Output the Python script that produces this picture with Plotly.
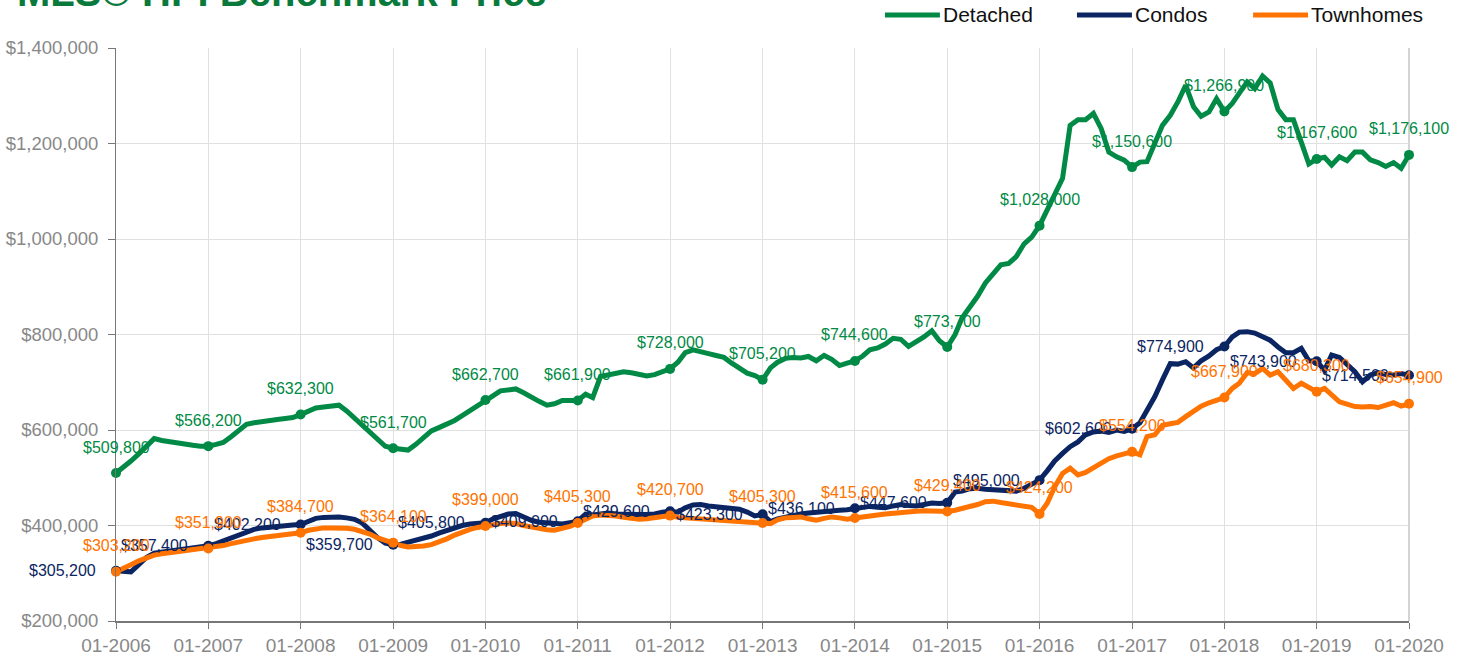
import pandas as pd
import plotly.graph_objects as go

# Monthly MLS HPI benchmark prices (thousands of $), Jan 2006 .. Jan 2020
dates = pd.date_range("2006-01-01", "2020-01-01", freq="MS")

detached = [
    509.8, 522, 535, 550, 565, 582, 578, 575, 572, 570, 568, 566,
    566.2, 570, 574, 586, 600, 612, 615, 618, 620, 622, 624, 626,
    632.3, 640, 646, 648, 651, 652, 640, 625, 610, 593, 578, 566,
    561.7, 560, 558, 570, 585, 598, 605, 612, 620, 630, 640, 651,
    662.7, 672, 682, 685, 686, 678, 668, 660, 652, 655, 662, 662,
    661.9, 675, 668, 712, 716, 719, 722, 720, 717, 713, 716, 722,
    728.0, 742, 762, 768, 765, 760, 756, 752, 740, 730, 719, 714,
    705.2, 730, 742, 750, 752, 751, 754, 745, 756, 748, 735, 740,
    744.6, 755, 768, 772, 780, 792, 790, 775, 784, 795, 808, 787,
    773.7, 800, 835, 858, 880, 908, 925, 946, 949, 963, 990, 1004,
    1028.0, 1060, 1093, 1127, 1238, 1250, 1250, 1263, 1231, 1182, 1172, 1165,
    1150.6, 1161, 1162, 1200, 1238, 1259, 1287, 1322, 1277, 1257, 1266, 1294,
    1266.9, 1284, 1307, 1329, 1315, 1341, 1327, 1271, 1250, 1250, 1203, 1157,
    1167.6, 1171, 1155, 1172, 1164, 1182, 1182, 1166, 1160, 1152, 1160, 1148,
    1176.1,
]

condos = [
    305.2, 303, 303, 318, 333, 342, 345, 347, 349, 351, 353, 355,
    357.4, 362, 368, 374, 381, 388, 392, 395, 397, 399, 400, 401,
    402.2, 410, 415, 417, 418, 418, 416, 413, 405, 390, 374, 363,
    359.7, 361, 365, 368, 373, 378, 384, 390, 396, 400, 403, 405,
    405.8, 414, 418, 424, 425, 418, 411, 407, 405, 404, 403, 406,
    409.0, 424, 422, 424, 426, 424, 423, 422, 423, 423, 424, 428,
    429.6, 428, 437, 443, 444, 441, 439, 437, 436, 434, 428, 420,
    423.3, 408, 414, 418, 421, 424, 426, 428, 430, 431, 432, 433,
    436.1, 438, 440, 438, 437, 441, 444, 442, 441, 444, 447, 446,
    447.6, 470, 472, 477, 478, 476, 475, 474, 473, 472, 478, 485,
    495.0, 515, 535, 551, 565, 575, 590, 596, 598, 595, 600, 597,
    602.6, 615, 642, 670, 705, 739, 738, 743, 730, 745, 755, 768,
    774.9, 795, 805, 806, 803, 796, 788, 774, 762, 762, 771, 745,
    743.9, 725, 757, 752, 736, 722, 701, 715, 720, 716, 715, 718,
    714.5,
]

townhomes = [
    303.2, 310, 318, 326, 333, 338, 341, 343, 345, 347, 349, 350,
    351.9, 355, 358, 362, 366, 369, 372, 375, 377, 379, 381, 383,
    384.7, 390, 393, 395, 395, 395, 394, 392, 388, 382, 374, 368,
    364.1, 358, 355, 355, 357, 360, 365, 372, 380, 387, 392, 396,
    399.0, 402, 404, 405, 404, 400, 397, 393, 391, 390, 394, 398,
    405.3, 414, 420, 422, 422, 420, 417, 414, 413, 414, 416, 418,
    420.7, 417, 416, 415, 414, 413, 412, 410, 409, 408, 407, 406,
    405.3, 404, 412, 416, 417, 418, 414, 411, 415, 418, 416, 413,
    415.6, 417, 419, 422, 424, 426, 428, 429, 430, 431, 430, 429,
    429.4, 432, 435, 440, 444, 450, 451, 448, 446, 443, 441, 438,
    424.2, 447, 481, 509, 520, 506, 511, 520, 530, 540, 546, 550,
    554.2, 548, 586, 590, 610, 613, 616, 628, 640, 650, 657, 663,
    667.9, 687, 698, 720, 718, 729, 715, 722, 705, 687, 698, 690,
    680.3, 687, 672, 659, 654, 649, 648, 649, 647, 652, 657, 650,
    654.9,
]

series_names = ["Detached", "Condos", "Townhomes"]
series_colors = ["#008A45", "#0B2562", "#FF7300"]
title_text = "MLS® HPI Benchmark Price"

FONT = "Liberation Sans, Arial, Helvetica, sans-serif"

# label placement per series: (xanchor, xshift, yshift)
label_place = [("center", 0, 26), ("right", -19, 0), ("center", 0, 26)]

fig = go.Figure()
all_series = [detached, condos, townhomes]

for name, vals, col in zip(series_names, all_series, series_colors):
    y = [v * 1000 for v in vals]
    fig.add_trace(go.Scatter(
        x=dates, y=y, mode="lines", name=name,
        line=dict(color=col, width=5, shape="linear"),
        hoverinfo="skip",
    ))

for name, vals, col, (xa, xs, ys) in zip(series_names, all_series, series_colors, label_place):
    jx = [d for d in dates if d.month == 1]
    jy = [v * 1000 for d, v in zip(dates, vals) if d.month == 1]
    fig.add_trace(go.Scatter(
        x=jx, y=jy, mode="markers", showlegend=False,
        marker=dict(color=col, size=10),
        hoverinfo="skip", cliponaxis=False,
    ))
    for xv, yv in zip(jx, jy):
        fig.add_annotation(
            x=xv, y=yv, xref="x", yref="y", text="${:,.0f}".format(yv),
            showarrow=False, xanchor=xa, yanchor="middle",
            xshift=xs, yshift=ys, borderpad=0,
            font=dict(color=col, size=16, family=FONT),
        )

# Legend drawn above the plot area (line sample + label per series)
legend_x0 = [0.5947, 0.7432, 0.8794]
legend_len = 0.0425
legend_y = 1.0576
for name, col, x0 in zip(series_names, series_colors, legend_x0):
    fig.add_shape(
        type="line", xref="paper", yref="paper",
        x0=x0, x1=x0 + legend_len, y0=legend_y, y1=legend_y,
        line=dict(color=col, width=5),
    )
    fig.add_annotation(
        text=name, xref="paper", yref="paper",
        x=x0 + legend_len + 0.001, y=legend_y, xanchor="left", yanchor="middle",
        showarrow=False, font=dict(size=21, color="#111111", family=FONT),
    )

# right border of the plot area
fig.add_shape(
    type="line", xref="paper", yref="paper", x0=1, x1=1, y0=0, y1=1,
    line=dict(color="#A8A8A8", width=1), layer="below",
)

fig.add_annotation(
    text="<b>" + title_text + "</b>", xref="paper", yref="paper",
    x=-0.078, y=1.0, yshift=32, xanchor="left", yanchor="bottom",
    showarrow=False, font=dict(size=40, color="#0A7A3C", family=FONT),
)

fig.update_layout(
    width=1464, height=658,
    margin=dict(l=116, r=55, t=48, b=37),
    paper_bgcolor="white", plot_bgcolor="white",
    font=dict(family=FONT, color="#888888", size=16),
    showlegend=False,
    xaxis=dict(
        type="date", range=["2006-01-01", "2020-01-01"],
        dtick="M12", tick0="2006-01-01", tickformat="%m-%Y",
        showgrid=True, gridcolor="#E0E0E0", gridwidth=1,
        showline=True, linecolor="#777777", linewidth=1.5,
        ticks="outside", ticklen=6, tickcolor="#777777",
        tickfont=dict(size=19, color="#888888"),
        zeroline=False, automargin=False,
    ),
    yaxis=dict(
        range=[200000, 1400000], dtick=200000, tickformat="$,.0f",
        showgrid=True, gridcolor="#E0E0E0", gridwidth=1,
        showline=True, linecolor="#777777", linewidth=1,
        ticks="outside", ticklen=7, tickcolor="#777777",
        tickfont=dict(size=18.5, color="#888888"),
        ticklabelstandoff=6,
        zeroline=False, automargin=False,
    ),
)

fig.write_html(
    "out.html",
    config={"displayModeBar": False},
    post_script="document.body.style.margin='0';document.body.style.overflow='hidden';",
)
